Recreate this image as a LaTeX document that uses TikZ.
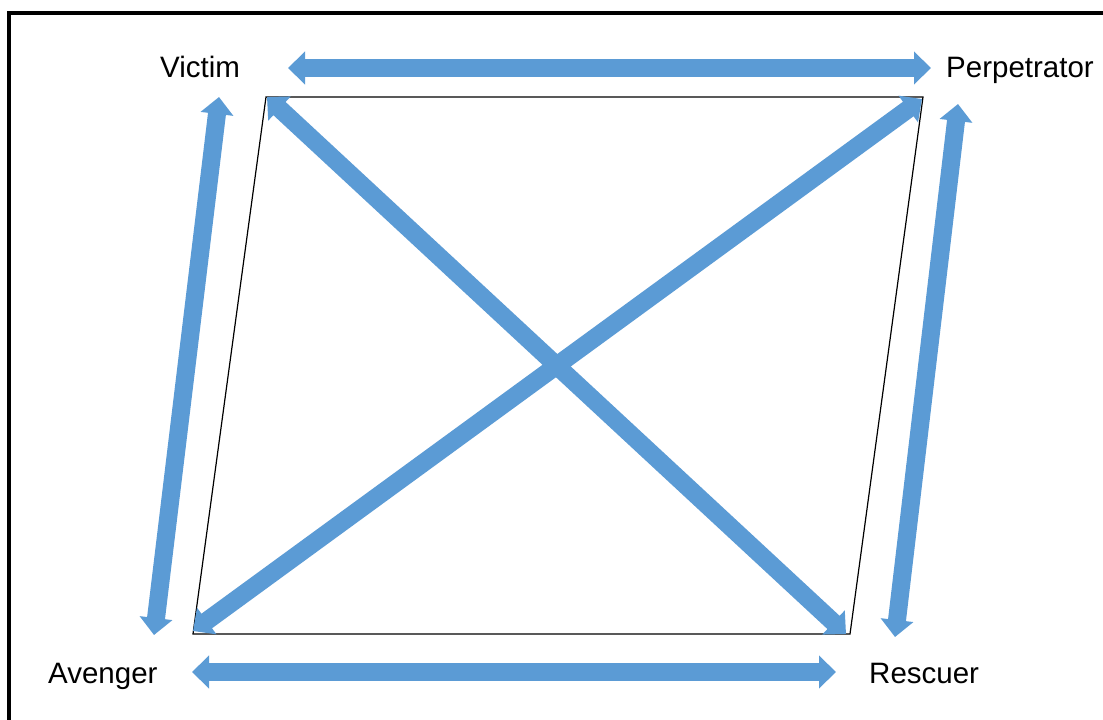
\documentclass[tikz,border=0pt]{standalone}
\usepackage{fontspec}
\setmainfont{Liberation Sans}
\usetikzlibrary{arrows.meta}
\definecolor{arrowblue}{HTML}{5B9BD5}
\begin{document}
\begin{tikzpicture}[x=1pt,y=-1pt,
  lbl/.style={inner sep=0pt,anchor=base west,font=\fontsize{29.5}{35}\selectfont},
  blockarrow/.style={draw=arrowblue,line width=18pt,line cap=butt,
    {Triangle[width=32pt,length=17pt]}-{Triangle[width=32pt,length=17pt]}},
  frame/.style={line width=4pt},
  quad/.style={line width=1.2pt}]
\useasboundingbox (0,0) rectangle (1103,720);
\fill[white] (0,0) rectangle (1103,720);
% frame
\coordinate (f1) at (9,720);
\coordinate (f2) at (9,13);
\coordinate (f3) at (1103,13);
\draw[frame] (f1) -- (f2) -- (f3);
% labels
\node[lbl] (victim) at (160,77) {Victim};
\node[lbl] (perp) at (946,77) {Perpetrator};
\node[lbl] (aveng) at (48,683) {Avenger};
\node[lbl] (resc) at (869,683) {Rescuer};
% parallelogram
\coordinate (q1) at (266,97);
\coordinate (q2) at (923,97);
\coordinate (q3) at (850,634);
\coordinate (q4) at (193,634);
\draw[quad] (q1) -- (q2) -- (q3) -- (q4) -- cycle;
% arrow end points
\coordinate (t1) at (288,68);  \coordinate (t2) at (931,68);
\coordinate (b1) at (192,672); \coordinate (b2) at (836,672);
\coordinate (l1) at (219,97);  \coordinate (l2) at (154,635);
\coordinate (r1) at (958,104); \coordinate (r2) at (895,637);
\coordinate (d1) at (267,97);  \coordinate (d2) at (846,634);
\coordinate (e1) at (922,99);  \coordinate (e2) at (193,631);
\draw[blockarrow] (t1) -- (t2);
\draw[blockarrow] (b1) -- (b2);
\draw[blockarrow] (l1) -- (l2);
\draw[blockarrow] (r1) -- (r2);
\draw[blockarrow] (d1) -- (d2);
\draw[blockarrow] (e1) -- (e2);
\end{tikzpicture}
\end{document}
